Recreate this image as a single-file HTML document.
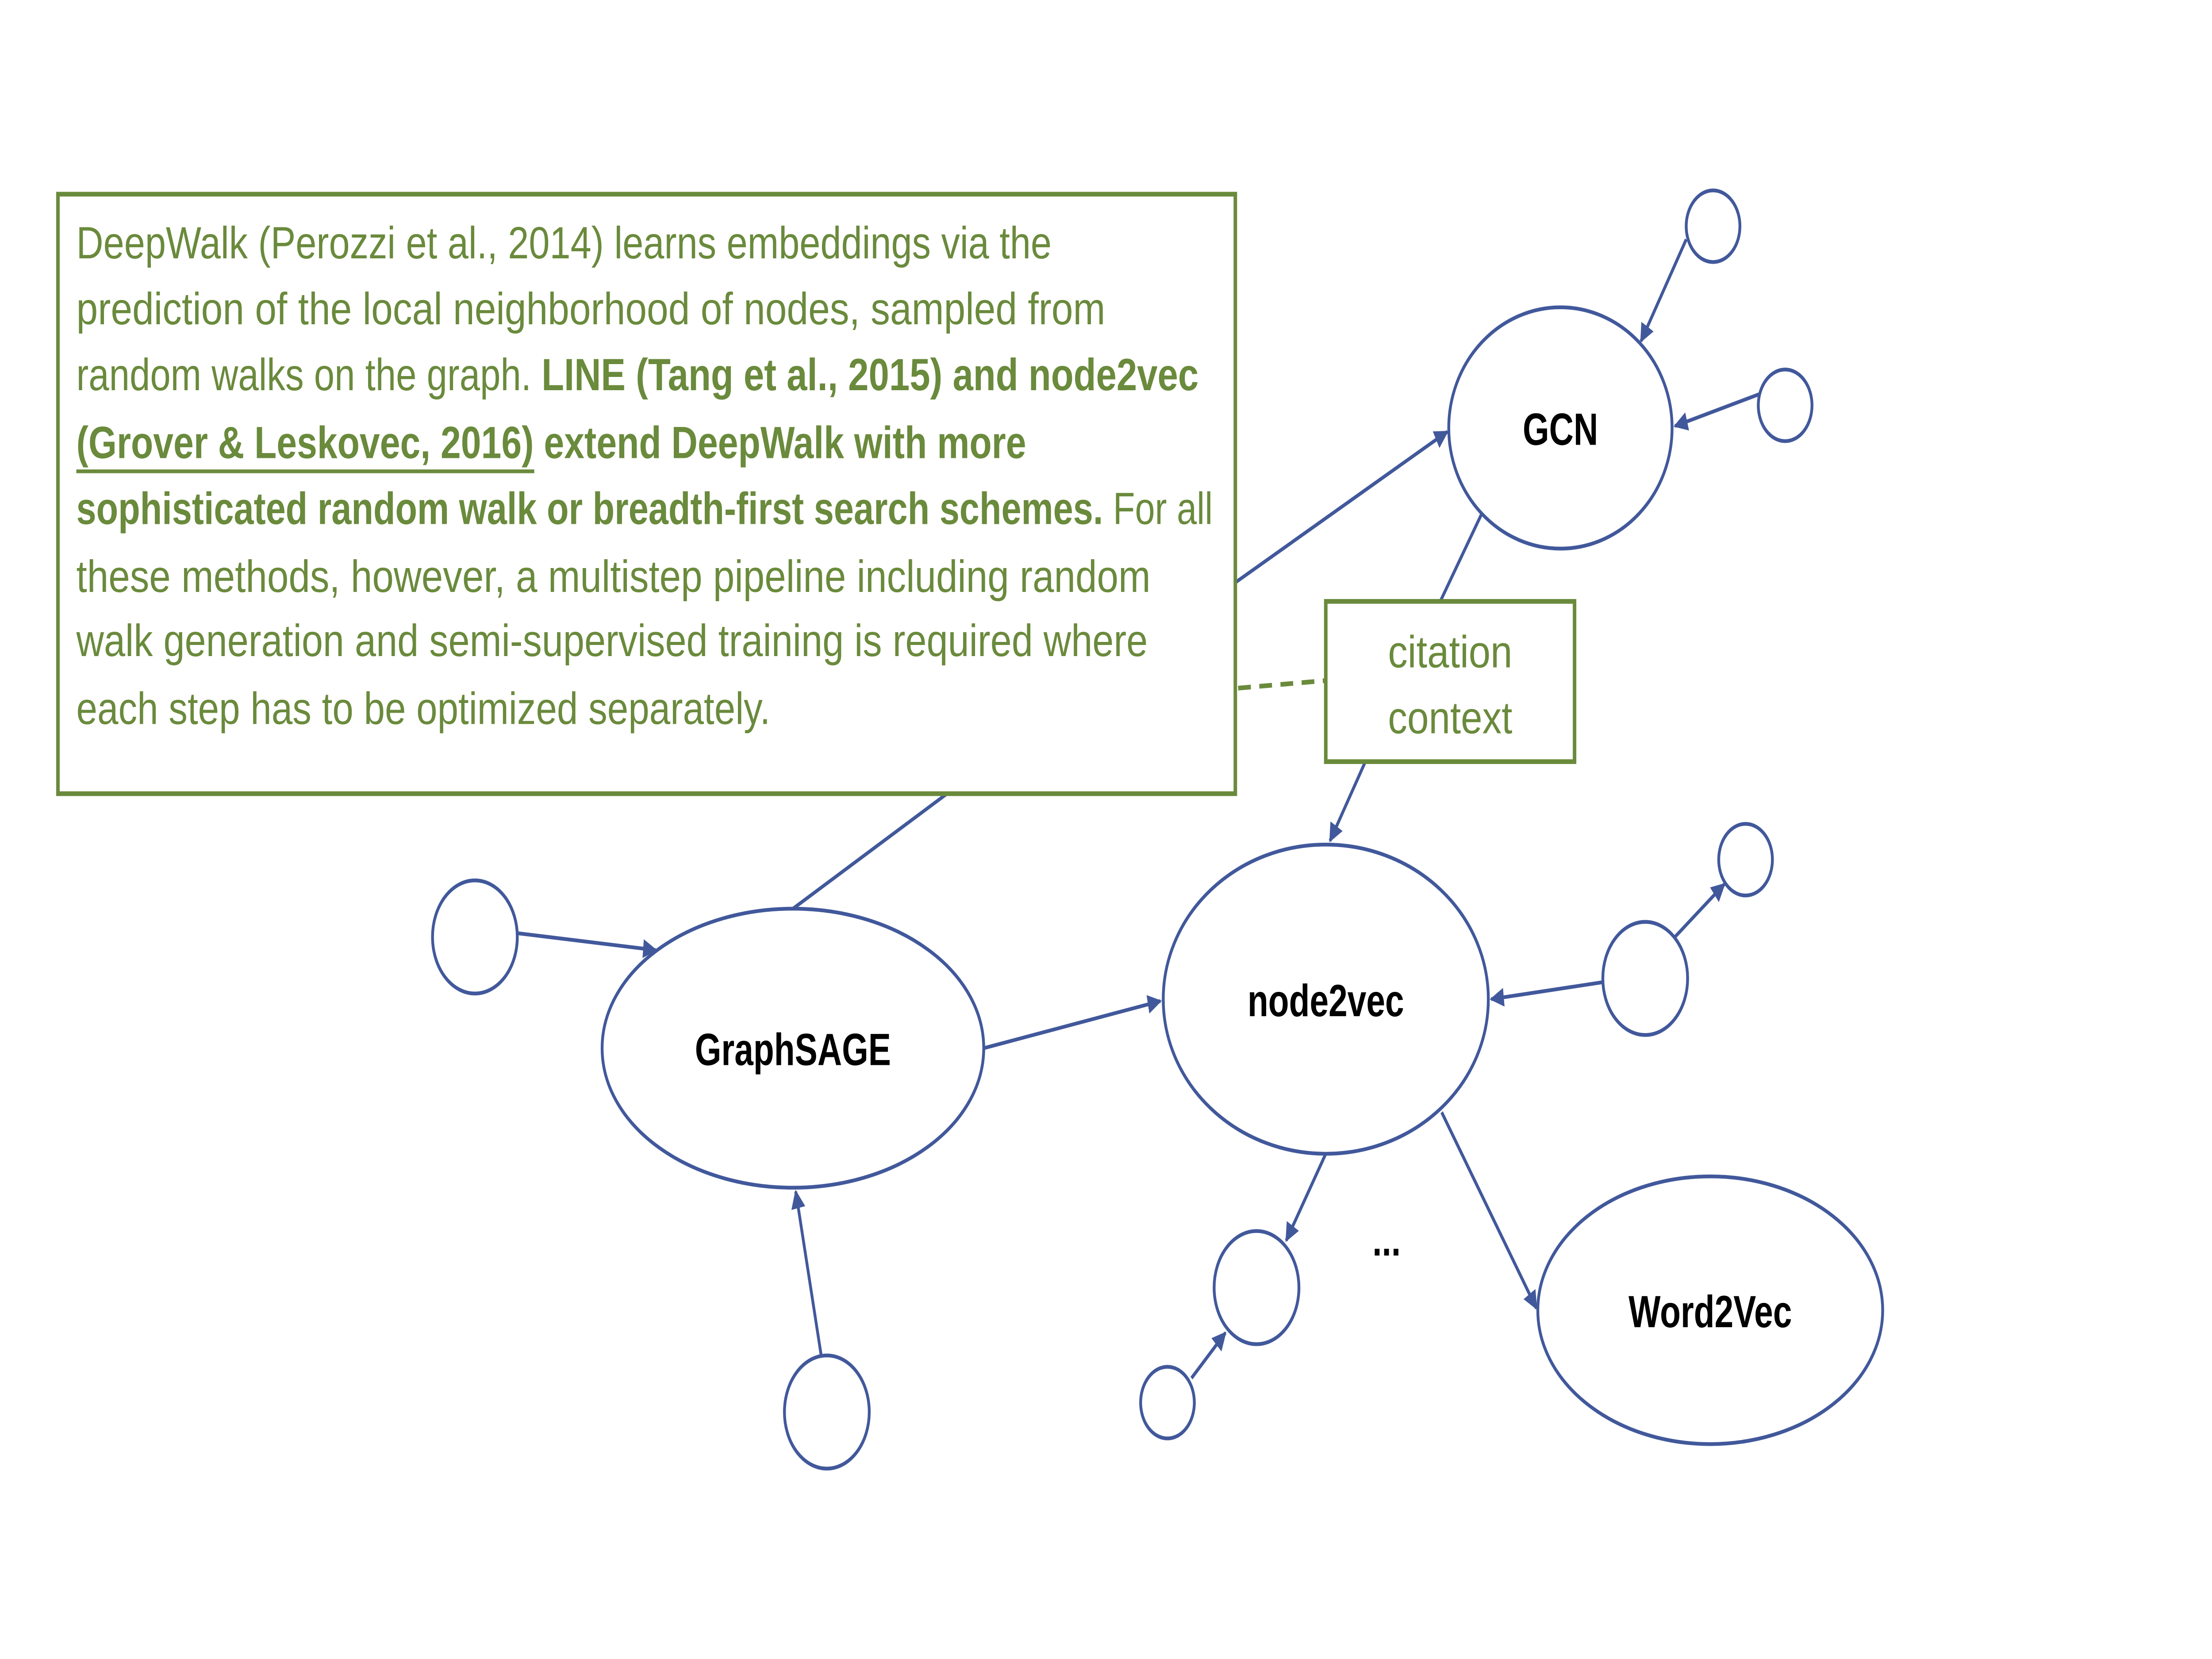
<!DOCTYPE html>
<html><head><meta charset="utf-8"><style>
html,body{margin:0;padding:0;background:#fff;width:100%;height:100%;overflow:hidden;}
svg{display:block;width:100vw;height:100vh;}
</style></head><body>
<svg viewBox="0 0 1565 880" preserveAspectRatio="none" xmlns="http://www.w3.org/2000/svg">
<defs>
<marker id="a" viewBox="0 0 10 10" refX="9" refY="5" markerWidth="5" markerHeight="5" orient="auto" markerUnits="strokeWidth">
<path d="M0,0 L10,5 L0,10 z" fill="#41589b"/>
</marker>
</defs>
<rect width="1565" height="880" fill="#fff"/>
<g fill="none" stroke="#41589b" stroke-width="2">
<line x1="874" y1="309" x2="1024" y2="229" marker-end="url(#a)"/>
<line x1="1193" y1="127" x2="1161" y2="181" marker-end="url(#a)"/>
<line x1="1245" y1="209" x2="1185" y2="226" marker-end="url(#a)"/>
<line x1="1048" y1="273" x2="1019" y2="319"/>
<line x1="966" y1="404" x2="941" y2="446" marker-end="url(#a)"/>
<line x1="561" y1="482" x2="670" y2="421"/>
<line x1="366" y1="495" x2="464" y2="504" marker-end="url(#a)"/>
<line x1="581" y1="719" x2="563" y2="632" marker-end="url(#a)"/>
<line x1="696" y1="556" x2="821" y2="531" marker-end="url(#a)"/>
<line x1="1134" y1="521" x2="1055" y2="530" marker-end="url(#a)"/>
<line x1="1185" y1="497" x2="1220" y2="469" marker-end="url(#a)"/>
<line x1="938" y1="612" x2="910" y2="658" marker-end="url(#a)"/>
<line x1="843" y1="731" x2="867" y2="707" marker-end="url(#a)"/>
<line x1="1020" y1="590" x2="1087" y2="694" marker-end="url(#a)"/>
<ellipse cx="1104" cy="227" rx="79" ry="64" fill="#fff"/>
<ellipse cx="938" cy="530" rx="115" ry="82" fill="#fff"/>
<ellipse cx="561" cy="556" rx="135" ry="74" fill="#fff"/>
<ellipse cx="1210" cy="695" rx="122" ry="71" fill="#fff"/>
<circle cx="1212" cy="120" r="19" fill="#fff"/>
<circle cx="1263" cy="215" r="19" fill="#fff"/>
<circle cx="336" cy="497" r="30" fill="#fff"/>
<circle cx="585" cy="749" r="30" fill="#fff"/>
<circle cx="1164" cy="519" r="30" fill="#fff"/>
<circle cx="1235" cy="456" r="19" fill="#fff"/>
<circle cx="889" cy="683" r="30" fill="#fff"/>
<circle cx="826" cy="744" r="19" fill="#fff"/>
</g>
<g font-family="Liberation Sans, sans-serif" font-weight="bold" font-size="24" fill="#000" text-anchor="middle">
<text x="1104" y="236">GCN</text>
<text x="938" y="539">node2vec</text>
<text x="561" y="565">GraphSAGE</text>
<text x="1210" y="704">Word2Vec</text>
<text x="981" y="666">...</text>
</g>
<line x1="876" y1="365" x2="938" y2="361" stroke="#6a8a3c" stroke-width="2.5" stroke-dasharray="9,6"/>
<rect x="41" y="103" width="833" height="318" fill="none" stroke="#6a8a3c" stroke-width="2.5"/>
<rect x="938" y="319" width="176" height="85" fill="#fff" stroke="#6a8a3c" stroke-width="2.5"/>
<g font-family="Liberation Sans, sans-serif" font-size="24" fill="#6a8a3c">
<text x="1026" y="354" text-anchor="middle" textLength="88" lengthAdjust="spacingAndGlyphs">citation</text>
<text x="1026" y="389" text-anchor="middle" textLength="88" lengthAdjust="spacingAndGlyphs">context</text>
<text x="54" y="137" textLength="690" lengthAdjust="spacingAndGlyphs">DeepWalk (Perozzi et al., 2014) learns embeddings via the</text>
<text x="54" y="172" textLength="728" lengthAdjust="spacingAndGlyphs">prediction of the local neighborhood of nodes, sampled from</text>
<text x="54" y="207" textLength="794" lengthAdjust="spacingAndGlyphs">random walks on the graph. <tspan font-weight="bold">LINE (Tang et al., 2015) and node2vec</tspan></text>
<text x="54" y="243" font-weight="bold" textLength="672" lengthAdjust="spacingAndGlyphs">(Grover &amp; Leskovec, 2016) extend DeepWalk with more</text>
<line x1="54" y1="250" x2="378" y2="250" stroke="#6a8a3c" stroke-width="2"/>
<text x="54" y="278" textLength="804" lengthAdjust="spacingAndGlyphs"><tspan font-weight="bold">sophisticated random walk or breadth-first search schemes.</tspan> For all</text>
<text x="54" y="314" textLength="760" lengthAdjust="spacingAndGlyphs">these methods, however, a multistep pipeline including random</text>
<text x="54" y="348" textLength="758" lengthAdjust="spacingAndGlyphs">walk generation and semi-supervised training is required where</text>
<text x="54" y="384" textLength="491" lengthAdjust="spacingAndGlyphs">each step has to be optimized separately.</text>
</g>
</svg>
</body></html>
